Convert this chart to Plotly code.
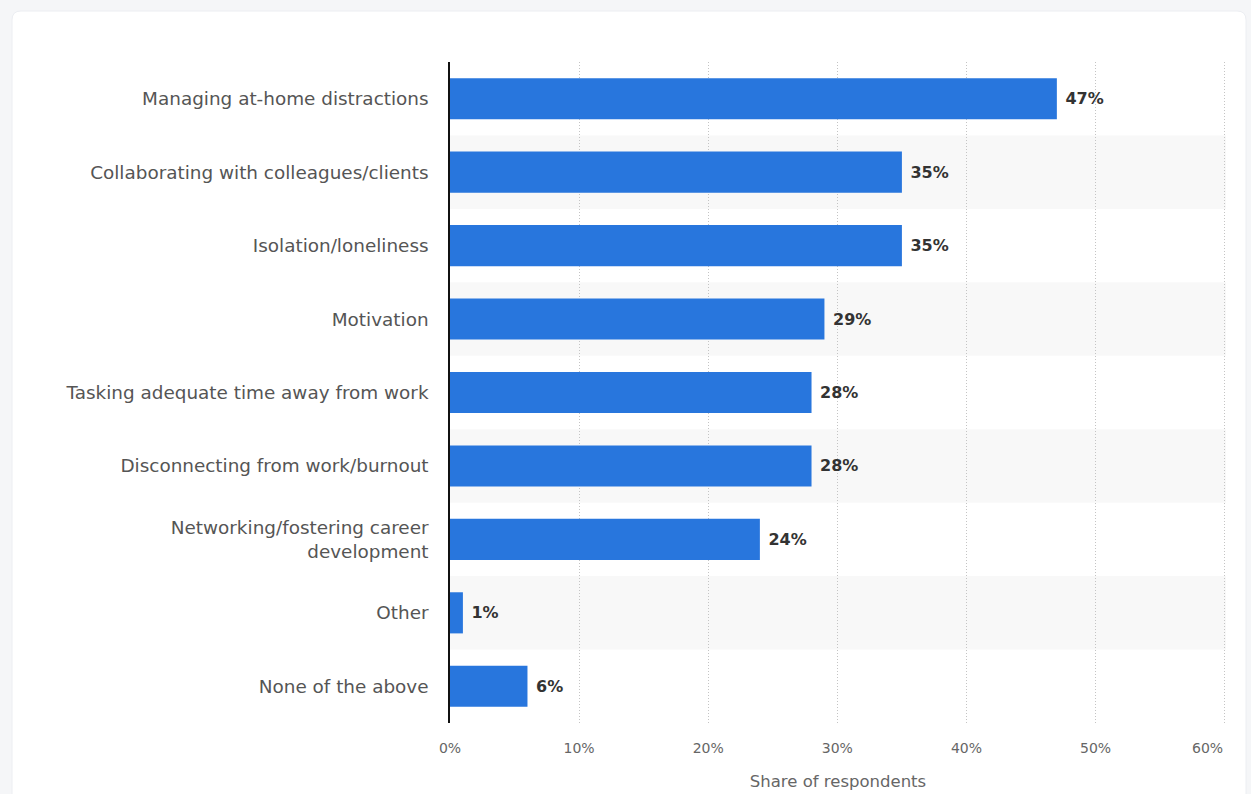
import plotly.graph_objects as go

# Survey: biggest struggles when working remotely
categories = [
    "Managing at-home distractions",
    "Collaborating with colleagues/clients",
    "Isolation/loneliness",
    "Motivation",
    "Tasking adequate time away from work",
    "Disconnecting from work/burnout",
    "Networking/fostering career<br>development",
    "Other",
    "None of the above",
]
shares = [47, 35, 35, 29, 28, 28, 24, 1, 6]
x_ticks = [0, 10, 20, 30, 40, 50, 60]
x_tick_labels = [f"{t}%" for t in x_ticks]

W, H = 1251, 794
M_L, M_R, M_T, M_B = 450, 25, 62, 71
PW, PH = W - M_L - M_R, H - M_T - M_B


def px_x(px):
    return (px - M_L) / PW


def px_y(py):
    return (M_T + PH - py) / PH


BAR = "#2876dd"
FONT = "DejaVu Sans"
TICK_FONT = dict(family=FONT, size=14, color="#666666")

# last tick label is right-aligned to its gridline (drawn as an annotation)
tick_text = list(x_tick_labels)
tick_text[-1] = ""

fig = go.Figure(
    go.Bar(
        x=shares,
        y=categories,
        orientation="h",
        width=0.56,
        marker=dict(color=BAR, line=dict(width=0)),
        text=[f" {v}%" for v in shares],
        textposition="outside",
        textfont=dict(family=FONT, size=16, color="#333333", weight="bold"),
        cliponaxis=False,
        hoverinfo="skip",
    )
)

shapes = []
# white card behind the chart
x0, x1 = px_x(12), px_x(1246)
yt, yb = px_y(11), px_y(820)
rx, ry = 9 / PW, 9 / PH
shapes.append(dict(
    type="path", xref="paper", yref="paper", layer="below",
    path=(f"M {x0},{yb} L {x0},{yt - ry} Q {x0},{yt} {x0 + rx},{yt} "
          f"L {x1 - rx},{yt} Q {x1},{yt} {x1},{yt - ry} L {x1},{yb} Z"),
    fillcolor="white", line=dict(color="#eceef2", width=1),
))
# alternating row bands
for i in range(1, len(categories), 2):
    shapes.append(dict(
        type="rect", xref="paper", yref="y", layer="below",
        x0=0, x1=1, y0=i - 0.5, y1=i + 0.5,
        fillcolor="#f8f8f8", line=dict(width=0),
    ))

fig.update_layout(
    width=W, height=H,
    margin=dict(l=M_L, r=M_R, t=M_T, b=M_B, pad=0),
    paper_bgcolor="#f5f6f8",
    plot_bgcolor="rgba(0,0,0,0)",
    font=dict(family=FONT, color="#666666"),
    shapes=shapes,
    showlegend=False,
    bargap=0.44,
    annotations=[dict(
        x=x_ticks[-1], xref="x", xanchor="right",
        y=px_y(748), yref="paper", yanchor="middle",
        text=x_tick_labels[-1], showarrow=False, font=TICK_FONT,
    )],
)
fig.update_xaxes(
    range=[0, 60.1],
    tickvals=x_ticks,
    ticktext=tick_text,
    tickfont=TICK_FONT,
    showgrid=True, gridcolor="#c4c4c4", griddash="1px,2px", gridwidth=1,
    zeroline=False, showline=False, ticks="",
    ticklabelstandoff=15,
    title=dict(text="Share of respondents",
               font=dict(family=FONT, size=16.5, color="#666666"),
               standoff=20),
    automargin=False,
    fixedrange=True,
)
fig.update_yaxes(
    autorange="reversed",
    tickfont=dict(family=FONT, size=18.4, color="#555555"),
    showgrid=False, zeroline=False,
    showline=True, linecolor="#111111", linewidth=1.5,
    ticks="", ticklabelstandoff=16,
    automargin=False,
    fixedrange=True,
)

fig.write_html("out.html", config={"displayModeBar": False})
